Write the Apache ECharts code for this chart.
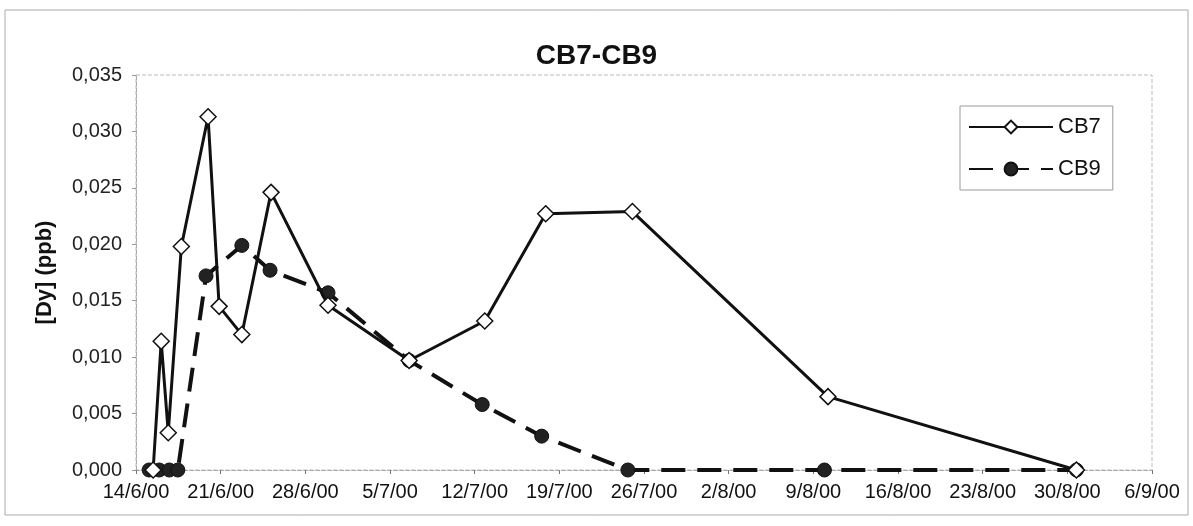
<!DOCTYPE html>
<html>
<head>
<meta charset="utf-8">
<script src="https://cdn.jsdelivr.net/npm/echarts@6/dist/echarts.min.js"></script>
<style>
html,body{margin:0;padding:0;background:#fff;}
#chart{width:1193px;height:526px;}
</style>
</head>
<body>
<div id="chart"></div>
<script>
// ---- data ----
const startDate = '2000-06-14T00:00:00Z';
const endDate = '2000-09-06T00:00:00Z';
const tickDays = 7;

const cb7Dates = ['2000-06-15T10:00','2000-06-16T02:00','2000-06-16T16:00','2000-06-17T18:00',
  '2000-06-19T23:00','2000-06-20T21:00','2000-06-22T18:00','2000-06-25T04:00','2000-06-29T21:00',
  '2000-07-06T14:00','2000-07-12T20:00','2000-07-17T21:00','2000-07-25T01:00','2000-08-10T05:00',
  '2000-08-30T18:00'];
const cb7Values = [0.0000,0.0114,0.0033,0.0198,0.0313,0.0145,0.0120,0.0246,0.0146,
  0.0097,0.0132,0.0227,0.0229,0.0065,0.0000];

const cb9Dates = ['2000-06-15T02:00','2000-06-15T22:00','2000-06-16T18:00','2000-06-17T11:00',
  '2000-06-19T19:00','2000-06-22T18:00','2000-06-25T02:00','2000-06-29T21:00','2000-07-06T14:00',
  '2000-07-12T15:00','2000-07-17T13:00','2000-07-24T16:00','2000-08-09T22:00','2000-08-30T18:00'];
const cb9Values = [0.0000,0.0000,0.0000,0.0000,0.0172,0.0199,0.0177,0.0157,0.0097,
  0.0058,0.0030,0.0000,0.0000,0.0000];

// ---- helpers ----
const DAY = 86400000;
const t0 = Date.parse(startDate);
const dayOf = s => (Date.parse(s + ':00Z') - t0) / DAY;
const totalDays = (Date.parse(endDate) - t0) / DAY;
const pairs = (ds, vs) => ds.map((d, i) => [dayOf(d), vs[i]]);
const dateLabel = v => {
  const d = new Date(t0 + v * DAY);
  return d.getUTCDate() + '/' + (d.getUTCMonth() + 1) + '/' + String(d.getUTCFullYear()).slice(2);
};

const FONT = 'Liberation Sans, Arial, sans-serif';
const chart = echarts.init(document.getElementById('chart'));
chart.setOption({
  backgroundColor: '#fff',
  animation: false,
  textStyle: { fontFamily: FONT },
  graphic: [{
    type: 'rect', shape: { x: 5, y: 10, width: 1183, height: 505 },
    style: { fill: 'none', stroke: '#aaa', lineWidth: 1 }, silent: true
  }],
  title: {
    text: 'CB7-CB9', left: 'center', top: 37,
    textStyle: { fontFamily: FONT, fontSize: 28, fontWeight: 'bold', color: '#111' }
  },
  grid: {
    left: 136, right: 41, top: 75, bottom: 56,
    show: true, borderColor: '#bbb', borderWidth: 1, borderType: 'dashed', containLabel: false
  },
  legend: {
    orient: 'vertical', left: 960, top: 106,
    itemWidth: 84, itemHeight: 16, itemGap: 20,
    padding: [10, 12, 10, 8],
    borderColor: '#999', borderWidth: 1,
    textStyle: { fontFamily: FONT, fontSize: 22, color: '#111' },
    data: ['CB7', 'CB9']
  },
  xAxis: {
    type: 'value', min: 0, max: totalDays, interval: tickDays,
    axisLine: { show: true, lineStyle: { color: '#aaa', type: 'dashed' } },
    axisTick: { show: true, inside: false, length: 4, lineStyle: { color: '#777' } },
    splitLine: { show: false },
    axisLabel: { formatter: dateLabel, fontFamily: FONT, fontSize: 20, color: '#111', margin: 12 }
  },
  yAxis: {
    type: 'value', min: 0, max: 0.035, interval: 0.005,
    name: '[Dy] (ppb)', nameLocation: 'middle', nameGap: 80,
    nameTextStyle: { fontFamily: FONT, fontSize: 22, fontWeight: 'bold', color: '#111' },
    axisLine: { show: true, lineStyle: { color: '#aaa', type: 'dashed' } },
    axisTick: { show: true, length: 4, lineStyle: { color: '#999' } },
    splitLine: { show: false },
    axisLabel: {
      formatter: v => v.toFixed(3).replace('.', ','),
      fontFamily: FONT, fontSize: 20, color: '#222', margin: 14
    }
  },
  series: [
    {
      name: 'CB9', type: 'line', data: pairs(cb9Dates, cb9Values),
      symbol: 'circle', symbolSize: 14,
      lineStyle: { color: '#111', width: 4, type: [24, 12] },
      itemStyle: { color: '#222', borderColor: '#111', borderWidth: 1 },
      z: 2
    },
    {
      name: 'CB7', type: 'line', data: pairs(cb7Dates, cb7Values),
      symbol: 'diamond', symbolSize: 16,
      lineStyle: { color: '#111', width: 3, type: 'solid' },
      itemStyle: { color: '#fff', borderColor: '#111', borderWidth: 1.5 },
      z: 3
    }
  ]
});
</script>
</body>
</html>
